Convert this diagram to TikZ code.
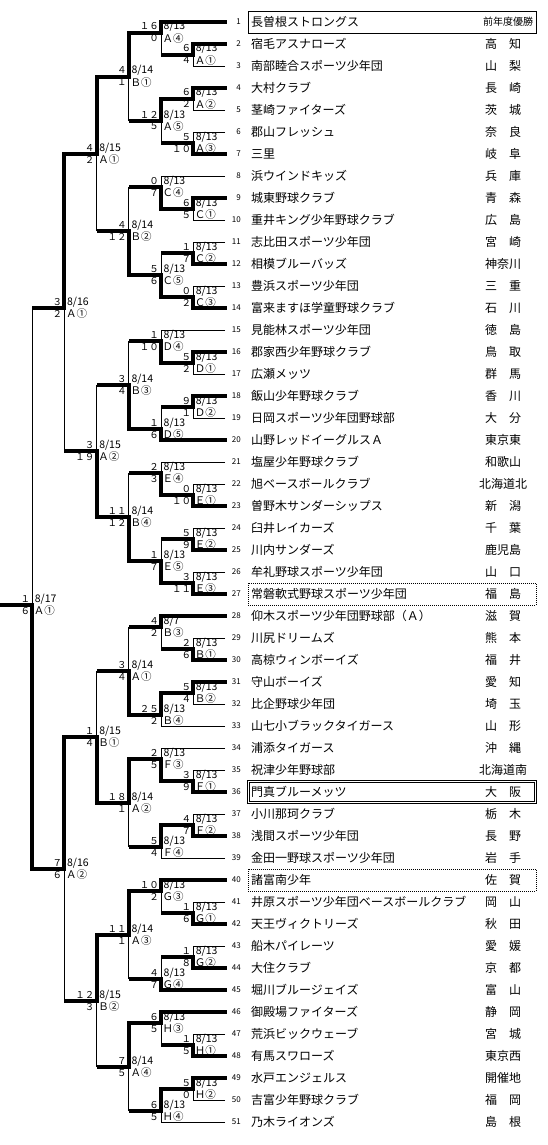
\documentclass[tikz,border=0pt]{standalone}
\usepackage{fontspec}
\setmainfont{Noto Sans CJK JP}
\newfontfamily\widefont[CharacterWidth=Full]{Noto Sans CJK JP}

\tikzset{
  win/.style={line width=4pt, line cap=rect},
  lose/.style={line width=0.9pt},
  team/.style={anchor=west, inner sep=0pt, font=\fontsize{12}{12}\selectfont},
  pref/.style={inner sep=0pt, font=\fontsize{12}{12}\selectfont},
  num/.style={anchor=east, inner sep=0pt, font=\fontsize{8}{8}\selectfont},
  day/.style={anchor=base west, inner sep=0pt, font=\fontsize{10.5}{10.5}\selectfont},
  slot/.style={anchor=base west, inner sep=0pt, font=\widefont\fontsize{10.5}{10.5}\selectfont},
  pts/.style={anchor=base east, inner sep=0pt, font=\widefont\fontsize{9.5}{9.5}\selectfont},
  box/.style={draw, line width=0.9pt, minimum width=288pt, minimum height=22pt, inner sep=0pt},
}

% one match: name, round, y of its result line, upper, lower, scores, date, slot
\newcommand{\game}[9]{%
  \coordinate (#1) at (32.2*#2,#3);
  \draw[lose] (#1 |- #4) -- (#1 |- #5);
  \ifnum#6>#7\relax
    \draw[win] (#1 |- #4) -- (#1) -- ++(-30.2,0);
  \else
    \draw[win] (#1 |- #5) -- (#1) -- ++(-30.2,0);
  \fi
  \node[day] (#1d) at (32.2*#2+2.5,#3-3) {#8};
  \node[slot] (#1s) at (32.2*#2+1.5,#3+9.5) {#9};
  \node[pts] (#1u) at (32.2*#2-2,#3-3) {#6};
  \node[pts] (#1l) at (32.2*#2-2,#3+9) {#7};
}

\begin{document}
\begin{tikzpicture}[x=1pt, y=-1pt]
\useasboundingbox (0,0) rectangle (548,1145);

% teams: number / name / prefecture / round of first game / line
\foreach \i/\nm/\pf/\lv/\ln in {
  1/長曽根ストロングス/{\hspace{10pt}\fontsize{10}{10}\selectfont 前年度優勝}/5/win,
  2/宿毛アスナローズ/高　知/6/win,
  3/南部睦合スポーツ少年団/山　梨/6/lose,
  4/大村クラブ/長　崎/6/win,
  5/茎崎ファイターズ/茨　城/6/lose,
  6/郡山フレッシュ/奈　良/6/lose,
  7/三里/岐　阜/6/win,
  8/浜ウインドキッズ/兵　庫/5/lose,
  9/城東野球クラブ/青　森/6/win,
  10/重井キング少年野球クラブ/広　島/6/lose,
  11/志比田スポーツ少年団/宮　崎/6/lose,
  12/相模ブルーバッズ/神奈川/6/win,
  13/豊浜スポーツ少年団/三　重/6/lose,
  14/富来ますほ学童野球クラブ/石　川/6/win,
  15/見能林スポーツ少年団/徳　島/5/lose,
  16/郡家西少年野球クラブ/鳥　取/6/win,
  17/広瀬メッツ/群　馬/6/lose,
  18/飯山少年野球クラブ/香　川/6/win,
  19/日岡スポーツ少年団野球部/大　分/6/lose,
  20/山野レッドイーグルスＡ/東京東/5/win,
  21/塩屋少年野球クラブ/和歌山/5/lose,
  22/旭ベースボールクラブ/北海道北/6/lose,
  23/曽野木サンダーシップス/新　潟/6/win,
  24/臼井レイカーズ/千　葉/6/lose,
  25/川内サンダーズ/鹿児島/6/win,
  26/牟礼野球スポーツ少年団/山　口/6/lose,
  27/常磐軟式野球スポーツ少年団/福　島/6/win,
  28/仰木スポーツ少年団野球部（Ａ）/滋　賀/5/win,
  29/川尻ドリームズ/熊　本/6/lose,
  30/高椋ウィンボーイズ/福　井/6/win,
  31/守山ボーイズ/愛　知/6/win,
  32/比企野球少年団/埼　玉/6/lose,
  33/山七小ブラックタイガース/山　形/5/lose,
  34/浦添タイガース/沖　縄/5/lose,
  35/祝津少年野球部/北海道南/6/lose,
  36/門真ブルーメッツ/大　阪/6/win,
  37/小川那珂クラブ/栃　木/6/lose,
  38/浅間スポーツ少年団/長　野/6/win,
  39/金田一野球スポーツ少年団/岩　手/5/lose,
  40/諸富南少年/佐　賀/5/win,
  41/井原スポーツ少年団ベースボールクラブ/岡　山/6/lose,
  42/天王ヴィクトリーズ/秋　田/6/win,
  43/船木パイレーツ/愛　媛/6/lose,
  44/大住クラブ/京　都/6/win,
  45/堀川ブルージェイズ/富　山/5/win,
  46/御殿場ファイターズ/静　岡/5/win,
  47/荒浜ビックウェーブ/宮　城/6/lose,
  48/有馬スワローズ/東京西/6/win,
  49/水戸エンジェルス/開催地/6/win,
  50/吉富少年野球クラブ/福　岡/6/lose,
  51/乃木ライオンズ/島　根/5/lose}{
  \coordinate (t\i) at (225,22*\i);
  \draw[\ln] (t\i) -- (32.2*\lv,22*\i);
  \node[num] (k\i) at (241,22*\i) {\i};
  \node[team] (n\i) at (251,22*\i) {\nm};
  \node[pref] (p\i) at (503,22*\i) {\pf};
}

% upper half
\game{a1}{6}{55}{t2}{t3}{6}{4}{8/13}{A①}
\game{a4}{5}{33}{t1}{a1}{16}{0}{8/13}{A④}
\game{a2}{6}{99}{t4}{t5}{6}{2}{8/13}{A②}
\game{a3}{6}{143}{t6}{t7}{5}{10}{8/13}{A③}
\game{a5}{5}{121}{a2}{a3}{12}{5}{8/13}{A⑤}
\game{p1}{4}{77}{a4}{a5}{4}{1}{8/14}{B①}
\game{c1}{6}{209}{t9}{t10}{6}{5}{8/13}{C①}
\game{c4}{5}{187}{t8}{c1}{0}{7}{8/13}{C④}
\game{c2}{6}{253}{t11}{t12}{1}{7}{8/13}{C②}
\game{c3}{6}{297}{t13}{t14}{0}{2}{8/13}{C③}
\game{c5}{5}{275}{c2}{c3}{5}{6}{8/13}{C⑤}
\game{p2}{4}{231}{c4}{c5}{4}{12}{8/14}{B②}
\game{r1}{3}{154}{p1}{p2}{4}{2}{8/15}{A①}
\game{d1}{6}{363}{t16}{t17}{5}{2}{8/13}{D①}
\game{d4}{5}{341}{t15}{d1}{1}{10}{8/13}{D④}
\game{d2}{6}{407}{t18}{t19}{9}{1}{8/13}{D②}
\game{d5}{5}{429}{d2}{t20}{1}{6}{8/13}{D⑤}
\game{p3}{4}{385}{d4}{d5}{3}{4}{8/14}{B③}
\game{e1}{6}{495}{t22}{t23}{0}{10}{8/13}{E①}
\game{e4}{5}{473}{t21}{e1}{2}{3}{8/13}{E④}
\game{e2}{6}{539}{t24}{t25}{5}{9}{8/13}{E②}
\game{e3}{6}{583}{t26}{t27}{3}{11}{8/13}{E③}
\game{e5}{5}{561}{e2}{e3}{1}{7}{8/13}{E⑤}
\game{p4}{4}{517}{e4}{e5}{11}{12}{8/14}{B④}
\game{r2}{3}{451}{p3}{p4}{3}{19}{8/15}{A②}
\game{u1}{2}{308}{r1}{r2}{3}{2}{8/16}{A①}

% lower half
\game{b1}{6}{649}{t29}{t30}{2}{6}{8/13}{B①}
\game{b3}{5}{627}{t28}{b1}{4}{2}{8/7}{B③}
\game{b2}{6}{693}{t31}{t32}{5}{4}{8/13}{B②}
\game{b4}{5}{715}{b2}{t33}{25}{2}{8/13}{B④}
\game{q1}{4}{671}{b3}{b4}{3}{4}{8/14}{A①}
\game{f1}{6}{781}{t35}{t36}{3}{9}{8/13}{F①}
\game{f3}{5}{759}{t34}{f1}{2}{5}{8/13}{F③}
\game{f2}{6}{825}{t37}{t38}{4}{7}{8/13}{F②}
\game{f4}{5}{847}{f2}{t39}{5}{4}{8/13}{F④}
\game{q2}{4}{803}{f3}{f4}{18}{1}{8/14}{A②}
\game{s1}{3}{737}{q1}{q2}{1}{4}{8/15}{B①}
\game{g1}{6}{913}{t41}{t42}{1}{6}{8/13}{G①}
\game{g3}{5}{891}{t40}{g1}{10}{2}{8/13}{G③}
\game{g2}{6}{957}{t43}{t44}{1}{8}{8/13}{G②}
\game{g4}{5}{979}{g2}{t45}{4}{7}{8/13}{G④}
\game{q3}{4}{935}{g3}{g4}{11}{1}{8/14}{A③}
\game{h1}{6}{1045}{t47}{t48}{1}{5}{8/13}{H①}
\game{h3}{5}{1023}{t46}{h1}{6}{5}{8/13}{H③}
\game{h2}{6}{1089}{t49}{t50}{5}{0}{8/13}{H②}
\game{h4}{5}{1111}{h2}{t51}{6}{5}{8/13}{H④}
\game{q4}{4}{1067}{h3}{h4}{7}{5}{8/14}{A④}
\game{s2}{3}{1001}{q3}{q4}{12}{3}{8/15}{B②}
\game{u2}{2}{869}{s1}{s2}{7}{6}{8/16}{A②}

% final
\game{fin}{1}{605}{u1}{u2}{1}{6}{8/17}{A①}

% frames
\node[box] (b1) at (392,22) {};
\node[box, dash pattern=on 1pt off 1pt] (b27) at (392,594) {};
\node[box, double, line width=0.7pt, double distance=1.5pt,
      minimum width=287pt, minimum height=21pt] (b36) at (392,792) {};
\node[box, dash pattern=on 1pt off 1pt] (b40) at (392,880) {};
\end{tikzpicture}
\end{document}
